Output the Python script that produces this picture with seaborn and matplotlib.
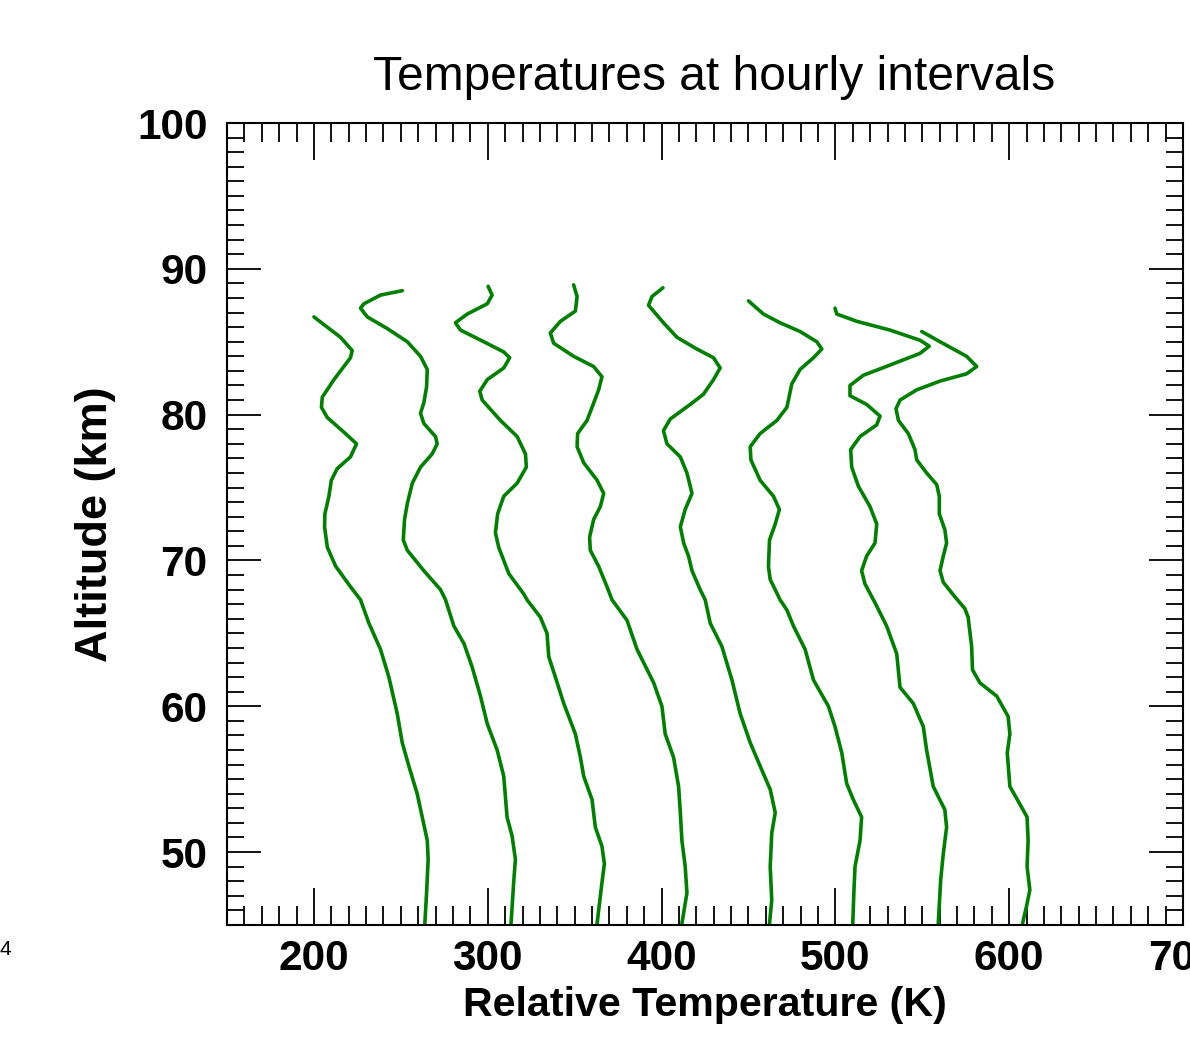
import pandas as pd
import matplotlib
matplotlib.use('Agg')
import matplotlib.pyplot as plt
import seaborn as sns
from matplotlib.ticker import MultipleLocator

# Profiles, one per hour (each shifted by 50 K)
alt_h1 = [86.7, 85.3, 84.4, 83.9, 82.4, 81.2, 80.5, 79.8, 78.8, 78.0, 77.1, 76.3, 75.5, 74.4, 73.2, 72.3,
          70.9, 69.6, 68.2, 67.3, 65.7, 63.9, 62.0, 59.5, 57.5, 55.9, 54.0, 52.4, 50.8, 49.5, 47.2, 45.1]
temp_h1 = [200.0, 215.3, 222.0, 221.0, 211.5, 204.8, 204.3, 207.7, 217.2, 224.5, 221.0, 213.4, 210.0, 208.6, 206.3, 206.1,
           207.7, 212.5, 221.0, 226.8, 231.6, 238.3, 243.1, 247.9, 250.8, 254.6, 259.4, 262.3, 265.2, 265.7, 264.8, 263.8]

alt_h2 = [88.5, 88.2, 87.6, 87.3, 86.7, 85.9, 85.0, 84.0, 83.1, 81.9, 80.8, 80.1, 79.4, 78.5, 78.0, 77.3, 76.4,
          75.3, 73.9, 72.8, 71.4, 70.7, 69.3, 68.0, 67.3, 65.5, 64.3, 62.7, 60.7, 58.8, 57.0, 55.2, 52.4, 51.1,
          49.5, 47.9, 45.1]
temp_h2 = [250.8, 238.3, 228.7, 226.8, 230.7, 242.2, 253.7, 261.3, 265.2, 264.8, 263.2, 261.3, 263.2, 269.9, 270.9, 268.0, 261.3,
           256.6, 253.7, 252.1, 251.4, 253.7, 263.2, 272.8, 275.7, 280.5, 286.3, 291.0, 295.8, 299.7, 305.4, 309.2, 311.1, 314.0,
           315.9, 314.9, 313.4]

alt_h3 = [88.8, 88.2, 87.6, 86.9, 86.3, 85.8, 85.0, 84.3, 83.9, 83.2, 82.4, 81.6, 81.0, 79.6, 78.5, 77.3, 76.4,
          75.3, 74.4, 73.2, 71.9, 70.9, 69.1, 67.7, 67.3, 66.1, 65.0, 63.4, 62.0, 60.2, 58.1, 56.5, 55.2, 53.6,
          51.7, 50.4, 49.2, 47.9, 45.1]
temp_h3 = [300.2, 302.5, 299.7, 288.2, 281.4, 284.3, 297.7, 309.2, 312.6, 309.2, 299.7, 295.4, 296.8, 307.3, 316.9, 321.7, 322.2,
           316.9, 309.2, 305.7, 304.4, 306.3, 312.1, 320.7, 322.6, 330.3, 334.1, 335.1, 338.9, 343.7, 350.4, 353.3, 355.2, 360.0,
           361.9, 365.7, 367.1, 365.7, 362.9]

alt_h4 = [88.9, 88.1, 87.1, 86.4, 85.6, 84.9, 84.0, 83.3, 82.6, 81.7, 80.5, 79.6, 78.7, 77.8, 76.7, 75.5, 74.6,
          73.7, 72.8, 71.6, 70.7, 69.6, 68.2, 67.3, 65.9, 63.9, 61.6, 60.0, 58.1, 56.5, 54.5, 52.7, 50.8, 49.0,
          47.2, 45.1]
temp_h4 = [349.4, 351.4, 350.4, 341.8, 336.0, 337.9, 349.4, 360.9, 365.7, 363.8, 360.0, 357.1, 351.7, 351.4, 355.2, 362.9, 366.7,
           364.8, 360.9, 358.6, 359.0, 363.8, 368.6, 371.5, 380.1, 385.9, 395.5, 400.2, 402.1, 406.9, 409.8, 410.8, 411.7, 413.6,
           414.6, 411.7]

alt_h5 = [88.7, 88.1, 87.5, 86.3, 85.3, 84.5, 83.9, 83.2, 82.4, 81.4, 80.7, 79.7, 78.9, 78.0, 77.1, 76.0, 74.6,
          73.5, 72.3, 71.2, 70.3, 69.3, 68.0, 67.3, 65.7, 64.1, 61.8, 59.5, 57.5, 55.9, 54.3, 52.7, 51.3, 49.0,
          46.7, 45.1]
temp_h5 = [400.8, 394.5, 392.5, 401.1, 408.9, 420.3, 429.9, 433.7, 429.9, 424.1, 416.5, 405.0, 401.1, 403.1, 410.8, 414.6, 417.5,
           413.6, 410.8, 412.7, 415.5, 417.5, 422.2, 425.1, 428.0, 434.7, 440.5, 445.2, 451.0, 456.7, 462.5, 465.4, 463.4, 462.5,
           463.4, 462.1]

alt_h6 = [87.8, 86.9, 86.3, 85.7, 85.0, 84.5, 83.9, 83.1, 82.1, 81.0, 80.5, 79.6, 78.7, 77.8, 76.9, 75.5, 74.4,
          73.5, 72.5, 71.4, 69.6, 68.7, 67.3, 66.6, 65.5, 63.9, 61.8, 60.0, 58.6, 56.8, 54.7, 53.6, 52.4, 50.8,
          49.0, 47.4, 45.1]
temp_h6 = [450.0, 458.6, 468.2, 479.7, 489.3, 492.2, 487.4, 479.7, 474.9, 473.0, 472.1, 466.3, 456.7, 451.0, 451.4, 456.7, 464.4,
           467.8, 465.4, 462.1, 461.5, 462.5, 468.2, 472.1, 475.9, 482.6, 487.4, 496.0, 499.8, 503.7, 506.5, 510.3, 515.1, 514.2,
           511.3, 510.7, 510.0]

alt_h7 = [87.3, 86.9, 86.4, 85.8, 85.1, 84.7, 84.2, 83.4, 82.7, 82.0, 81.3, 80.7, 79.9, 79.3, 78.5, 77.6, 76.4,
          75.1, 73.7, 72.5, 71.2, 70.3, 69.3, 68.4, 67.1, 65.5, 63.6, 61.3, 60.2, 58.6, 57.0, 54.5, 52.9, 51.7,
          49.9, 48.1, 45.1]
temp_h7 = [499.8, 500.8, 512.3, 531.4, 548.7, 554.0, 548.7, 531.4, 516.1, 508.4, 508.4, 518.0, 525.7, 523.8, 514.2, 508.8, 509.4,
           513.2, 519.9, 523.8, 522.8, 518.0, 515.1, 517.0, 522.8, 529.5, 535.3, 537.2, 544.8, 550.6, 552.5, 556.3, 563.0, 564.0,
           562.1, 560.6, 559.2]

alt_h8 = [85.7, 85.0, 84.0, 83.3, 82.8, 82.3, 81.7, 81.0, 80.4, 79.6, 78.7, 77.6, 76.9, 76.0, 75.2, 74.4, 73.2,
          72.1, 71.2, 70.3, 69.3, 68.5, 67.5, 66.7, 66.1, 64.1, 62.5, 61.6, 60.7, 59.3, 58.1, 56.8, 54.5, 53.3,
          52.4, 50.8, 49.0, 47.4, 46.3, 45.1]
temp_h8 = [549.7, 560.2, 575.5, 581.3, 575.5, 560.2, 546.8, 537.2, 534.9, 536.3, 542.0, 545.8, 546.8, 552.5, 558.3, 559.8, 559.8,
           563.0, 564.0, 562.1, 560.2, 562.1, 568.8, 574.5, 576.4, 578.4, 578.9, 583.2, 592.8, 599.4, 600.4, 598.9, 600.4, 606.1,
           610.3, 610.9, 610.3, 611.9, 610.0, 607.7]

alts = [alt_h1, alt_h2, alt_h3, alt_h4, alt_h5, alt_h6, alt_h7, alt_h8]
temps = [temp_h1, temp_h2, temp_h3, temp_h4, temp_h5, temp_h6, temp_h7, temp_h8]

frames = []
for i, (a, t) in enumerate(zip(alts, temps)):
    frames.append(pd.DataFrame({'hour': i + 1, 'alt': a, 'temp': t}))
df = pd.concat(frames, ignore_index=True)

sns.set_style('ticks')
plt.rcParams['font.family'] = ['Liberation Sans', 'DejaVu Sans']
plt.rcParams['text.color'] = 'black'
plt.rcParams['axes.labelcolor'] = 'black'
plt.rcParams['xtick.color'] = 'black'
plt.rcParams['ytick.color'] = 'black'

fig = plt.figure(figsize=(11.9, 10.46), dpi=100)
ax = fig.add_axes([0.1908, 0.1157, 0.8033, 0.7667])

sns.lineplot(data=df, x='temp', y='alt', units='hour', estimator=None, sort=False,
             color='green', linewidth=2.6, ax=ax)
for line in ax.get_lines():
    line.set_solid_joinstyle('round')
    line.set_solid_capstyle('round')

ax.set_xlim(150, 700)
ax.set_ylim(45, 100)
ax.xaxis.set_major_locator(MultipleLocator(100))
ax.xaxis.set_minor_locator(MultipleLocator(10))
ax.yaxis.set_major_locator(MultipleLocator(10))
ax.yaxis.set_minor_locator(MultipleLocator(1))

ax.tick_params(axis='x', which='major', direction='in', length=26.5, width=1.3,
               top=True, bottom=True, pad=10, labelsize=30.5)
ax.tick_params(axis='x', which='minor', direction='in', length=13.5, width=1.3, top=True, bottom=True)
ax.tick_params(axis='y', which='major', direction='in', length=24.5, width=1.3,
               left=True, right=True, pad=14, labelsize=30.5)
ax.tick_params(axis='y', which='minor', direction='in', length=12.2, width=1.3, left=True, right=True)
for lab in ax.get_xticklabels() + ax.get_yticklabels():
    lab.set_fontweight('bold')
for s in ax.spines.values():
    s.set_linewidth(1.5)
    s.set_color('black')

ax.set_title('Temperatures at hourly intervals', fontsize=34.5, pad=24, x=0.51)
ax.set_xlabel('Relative Temperature (K)', fontsize=29.6, fontweight='bold', labelpad=5)
ax.set_ylabel('Altitude (km)', fontsize=32.5, fontweight='bold', labelpad=15)

fig.text(0.0, 0.092, '4', fontsize=15, ha='left', va='center')

plt.savefig('out.png', dpi=100)
